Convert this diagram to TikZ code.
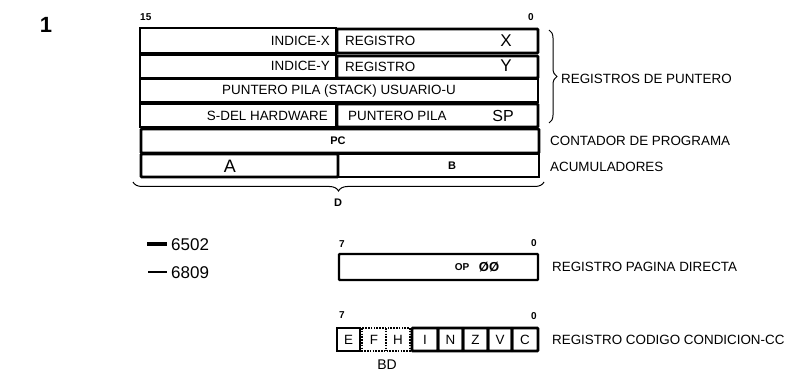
\documentclass[tikz,border=0pt]{standalone}
\usepackage{fontspec}
\setmainfont{Liberation Sans}
\usetikzlibrary{decorations.pathreplacing}
\newcommand\fsz[1]{\fontsize{#1}{#1}\selectfont}
\begin{document}
\begin{tikzpicture}[x=1pt,y=-1pt,
  thinbox/.style={draw,line width=1.1pt},
  thickbox/.style={draw,line width=2.8pt,rounded corners=0.8pt},
  dotbox/.style={draw,line width=2.2pt,dash pattern=on 1.6pt off 1.2pt},
  lbl/.style={inner sep=0pt,font=\fsz{13.4}},
  big/.style={inner sep=0pt,font=\fsz{17}},
  small/.style={inner sep=0pt,font=\fsz{11}\bfseries},
  tiny/.style={inner sep=0pt,font=\fsz{10}\bfseries},
  brc/.style={decorate,decoration={brace,amplitude=8pt},line width=1pt}]
\useasboundingbox (0,0) rectangle (798,374);

% figure number
\node[inner sep=0pt,font=\fsz{22}\bfseries] (fig) at (46,25) {1};

% bit labels
\node[tiny,anchor=west] (b15) at (140,17) {15};
\node[tiny] (b0) at (531,17) {0};

% rows
\draw[thinbox] (140,28) rectangle (336,53);
\draw[thickbox] (337,29) rectangle (538,53);
\node[lbl,anchor=east] (ix) at (330,41) {INDICE-X};
\node[lbl,anchor=west] (rx) at (345,41) {REGISTRO};
\node[big] (X) at (506,41) {X};

\draw[thinbox] (140,55) rectangle (336,78);
\draw[thickbox] (337,56) rectangle (538,78);
\node[lbl,anchor=east] (iy) at (330,66) {INDICE-Y};
\node[lbl,anchor=west] (ry) at (345,67) {REGISTRO};
\node[big] (Y) at (506,66) {Y};

\draw[thinbox] (140,79) rectangle (538,102);
\node[lbl] (pu) at (339,91) {PUNTERO PILA (STACK) USUARIO-U};

\draw[thinbox] (140,104) rectangle (336,127);
\draw[thickbox] (337,104) rectangle (538,127);
\node[lbl,anchor=east] (sd) at (328,116) {S-DEL HARDWARE};
\node[lbl,anchor=west] (pp) at (348,116) {PUNTERO PILA};
\node[big,font=\fsz{16}] (SP) at (503,116) {SP};

\draw[thickbox] (141,129) rectangle (539,153);
\node[small] (PC) at (338,141) {PC};

\draw[thinbox] (338,154) rectangle (539,177);
\draw[thickbox] (141,154) rectangle (338,177);
\node[big,font=\fsz{18}] (A) at (230,166) {A};
\node[small] (B) at (452,166) {B};

% braces
\draw[brc] (549,30) -- (549,123);
\draw[brc,decoration={brace,mirror,amplitude=9pt}] (133,182) -- (544,182);
\node[small] (D) at (338,203) {D};

\node[lbl,anchor=west] (rp) at (561,79) {REGISTROS DE PUNTERO};
\node[lbl,anchor=west] (cp) at (550,141) {CONTADOR DE PROGRAMA};
\node[lbl,anchor=west] (ac) at (550,167) {ACUMULADORES};

% legend
\draw[line width=3.4pt] (147,244) -- (167,244);
\node[inner sep=0pt,anchor=west,font=\fsz{17}] (l1) at (171,245) {6502};
\draw[line width=1.1pt] (148,272) -- (167,272);
\node[inner sep=0pt,anchor=west,font=\fsz{17}] (l2) at (171,273) {6809};

% direct page register
\node[tiny] (d7) at (342,244) {7};
\node[tiny] (d0) at (534,243) {0};
\draw[thickbox,line width=2.4pt] (339,254) rectangle (538,280);
\node[tiny] (OP) at (462,267) {OP};
\node[inner sep=0pt,font=\fsz{13}\bfseries] (OO) at (489,267) {ØØ};
\node[lbl,anchor=west] (rpd) at (552,267) {REGISTRO PAGINA DIRECTA};

% condition code register
\node[tiny] (c7) at (342,315) {7};
\node[tiny] (c0) at (534,316) {0};
\draw[thinbox] (337,328) rectangle (360,351);
\draw[dotbox] (362,328) rectangle (410,351);
\draw[dotbox] (386,328) -- (386,351);
\draw[thickbox] (412,328) rectangle (438,351);
\draw[thickbox] (438,328) rectangle (463,351);
\draw[thickbox] (463,328) rectangle (488,351);
\draw[thickbox] (488,328) rectangle (512,351);
\draw[thickbox] (512,328) rectangle (538,351);
\node[lbl] (fE) at (348.5,340) {E};
\node[lbl] (fF) at (374,340) {F};
\node[lbl] (fH) at (398,340) {H};
\node[lbl] (fI) at (425,340) {I};
\node[lbl] (fN) at (450.5,340) {N};
\node[lbl] (fZ) at (475.5,340) {Z};
\node[lbl] (fV) at (500,340) {V};
\node[lbl] (fC) at (525,340) {C};
\node[inner sep=0pt,font=\fsz{14}] (BD) at (387,365) {BD};
\node[lbl,anchor=west] (rcc) at (552,340) {REGISTRO CODIGO CONDICION-CC};
\end{tikzpicture}
\end{document}
